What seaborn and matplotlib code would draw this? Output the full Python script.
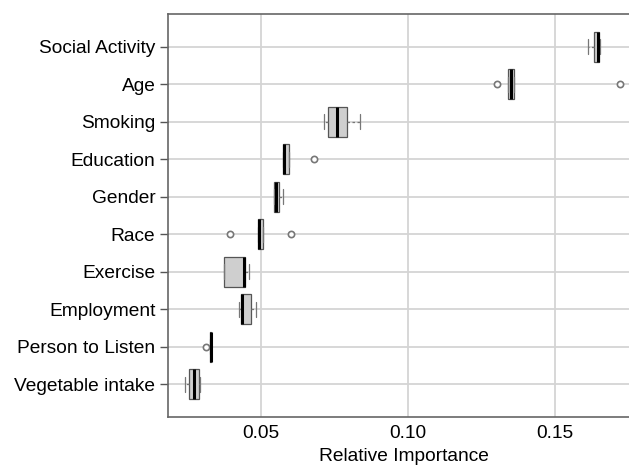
import pandas as pd
import seaborn as sns
import matplotlib.pyplot as plt

#%% data - relative importance of each feature over repeated runs
features = ['Social Activity', 'Age', 'Smoking', 'Education', 'Gender',
            'Race', 'Exercise', 'Employment', 'Person to Listen', 'Vegetable intake']

social_activity = [0.1613, 0.1634, 0.1634, 0.1640, 0.1646, 0.1648, 0.1651, 0.1652, 0.1652]
age = [0.1304, 0.1339, 0.1339, 0.1345, 0.1349, 0.1352, 0.1359, 0.1359, 0.1722]
smoking = [0.0714, 0.0727, 0.0727, 0.0745, 0.0760, 0.0780, 0.0794, 0.0810, 0.0837]
education = [0.0575, 0.0576, 0.0576, 0.0578, 0.0579, 0.0585, 0.0596, 0.0596, 0.0679]
gender = [0.0543, 0.0544, 0.0544, 0.0547, 0.0550, 0.0556, 0.0562, 0.0570, 0.0576]
race = [0.0396, 0.0490, 0.0490, 0.0492, 0.0494, 0.0500, 0.0508, 0.0508, 0.0601]
exercise = [0.0374, 0.0376, 0.0376, 0.0410, 0.0442, 0.0445, 0.0447, 0.0455, 0.0460]
employment = [0.0425, 0.0432, 0.0432, 0.0434, 0.0435, 0.0450, 0.0465, 0.0475, 0.0482]
person_to_listen = [0.0314, 0.0328, 0.0328, 0.0329, 0.0329, 0.0330, 0.0330, 0.0330, 0.0330]
vegetable_intake = [0.0242, 0.0254, 0.0254, 0.0265, 0.0273, 0.0283, 0.0291, 0.0292, 0.0294]

x_ticks = [0.05, 0.10, 0.15]
x_ticklabels = ['0.05', '0.10', '0.15']

runs = [social_activity, age, smoking, education, gender,
        race, exercise, employment, person_to_listen, vegetable_intake]

df_imp = pd.DataFrame([(f, v) for f, vals in zip(features, runs) for v in vals],
                      columns=['feature', 'importance'])

#%% plot
sns.set_style('white')
plt.rcParams['font.family'] = ['Liberation Sans', 'DejaVu Sans']
plt.rcParams['text.color'] = 'black'
plt.rcParams['xtick.color'] = 'black'
plt.rcParams['ytick.color'] = 'black'
plt.rcParams['axes.labelcolor'] = 'black'

fig = plt.figure(figsize=(6.29, 4.65), dpi=100)
ax = fig.add_axes([0.267, 0.1032, 0.7505, 0.8668])  # right side runs off the figure, like the original

sns.boxplot(data=df_imp, x='importance', y='feature', order=features, orient='h',
            width=0.8, whis=1.5, color='#cfcfcf', saturation=1, ax=ax,
            linecolor='#555555', linewidth=0.9,
            boxprops={'facecolor': '#cfcfcf', 'edgecolor': '#555555'},
            medianprops={'color': 'black', 'linewidth': 2.2},
            whiskerprops={'linestyle': (0, (2, 2)), 'color': '#777777'},
            capprops={'color': '#777777'},
            flierprops={'marker': 'o', 'markersize': 4.5, 'markerfacecolor': 'white',
                        'markeredgecolor': '#777777', 'markeredgewidth': 1.2})

# seaborn switches the grid off on the categorical axis - turn both back on
ax.grid(True, axis='both', color='#d4d4d4', linewidth=1.3)
ax.set_axisbelow(True)

ax.set_xlim(0.0184, 0.1789)
ax.set_ylim(len(features) - 1 + 0.87, -0.88)
ax.set_xticks(x_ticks)
ax.set_xticklabels(x_ticklabels)

ax.set_xlabel('Relative Importance', fontsize=13.8, labelpad=4)
ax.set_ylabel('')
ax.tick_params(axis='y', labelsize=13.8, length=6, width=1, color='#555555', pad=3, left=True)
ax.tick_params(axis='x', labelsize=13.8, length=0, pad=6)

for s in ax.spines.values():
    s.set_color('#666666')
    s.set_linewidth(1.2)

plt.savefig('out.png', dpi=100)
